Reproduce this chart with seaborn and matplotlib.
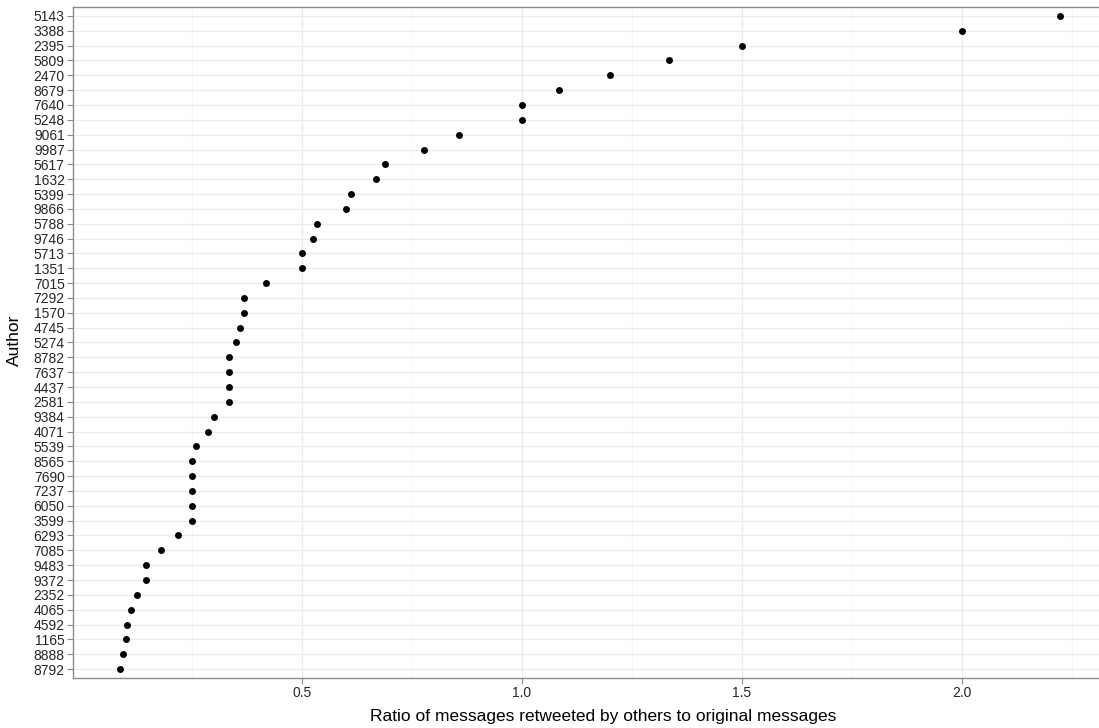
import matplotlib
matplotlib.use("Agg")
import matplotlib.pyplot as plt
import numpy as np
import pandas as pd
import seaborn as sns

# Authors listed top to bottom, with their retweet ratios
authors = ["5143", "3388", "2395", "5809", "2470", "8679", "7640", "5248", "9061",
           "9987", "5617", "1632", "5399", "9866", "5788", "9746", "5713", "1351",
           "7015", "7292", "1570", "4745", "5274", "8782", "7637", "4437", "2581",
           "9384", "4071", "5539", "8565", "7690", "7237", "6050", "3599", "6293",
           "7085", "9483", "9372", "2352", "4065", "4592", "1165", "8888", "8792"]
ratios = [2.222, 2.0, 1.5, 1.333, 1.2, 1.083, 1.0, 1.0, 0.857,
          0.778, 0.688, 0.667, 0.611, 0.6, 0.533, 0.524, 0.5, 0.5,
          0.417, 0.367, 0.367, 0.358, 0.35, 0.333, 0.333, 0.333, 0.333,
          0.3, 0.286, 0.26, 0.25, 0.25, 0.25, 0.25, 0.25, 0.217,
          0.18, 0.145, 0.145, 0.125, 0.111, 0.103, 0.099, 0.094, 0.086]
x_breaks = [0.5, 1.0, 1.5, 2.0]
x_minor = [0.25, 0.75, 1.25, 1.75, 2.25]

df = pd.DataFrame({"Author": authors, "Ratio": ratios})

sns.set_theme(style="white")
plt.rcParams["font.family"] = ["Liberation Sans", "DejaVu Sans"]

fig = plt.figure(figsize=(10.99, 7.28), dpi=100)
ax = fig.add_axes([0.0664, 0.0687, 0.9405, 0.9217])

sns.stripplot(data=df, x="Ratio", y="Author", order=authors, jitter=False,
              color="black", size=5.0, linewidth=0, ax=ax, zorder=3)

# ggplot-style expansion: 5% on the continuous axis, 0.6 on the discrete one
lo, hi = min(ratios), max(ratios)
pad = 0.05 * (hi - lo)
ax.set_xlim(lo - pad, hi + pad)
ax.set_ylim(len(authors) - 1 + 0.6, -0.6)

ax.set_xticks(x_breaks)
ax.set_xticklabels([f"{b:.1f}" for b in x_breaks])
ax.set_xticks(x_minor, minor=True)

ax.set_axisbelow(True)
ax.grid(True, which="major", axis="both", color="#EBEBEB", linewidth=1.0)
ax.grid(True, which="minor", axis="x", color="#F6F6F6", linewidth=0.8)

for side in ["top", "bottom", "left", "right"]:
    ax.spines[side].set_visible(True)
    ax.spines[side].set_color("#8C8C8C")
    ax.spines[side].set_linewidth(1.0)

ax.tick_params(axis="both", which="major", length=4, width=0.8, color="#8C8C8C",
               labelsize=10, labelcolor="#262626", pad=2, bottom=True, left=True)
ax.tick_params(axis="x", which="minor", length=0)

ax.set_xlabel("Ratio of messages retweeted by others to original messages",
              fontsize=12.5, color="black")
ax.set_ylabel("Author", fontsize=12.5, color="black")
ax.xaxis.set_label_coords(0.5125, -0.046)
ax.yaxis.set_label_coords(-0.049, 0.503)

fig.savefig("out.png", dpi=100)
